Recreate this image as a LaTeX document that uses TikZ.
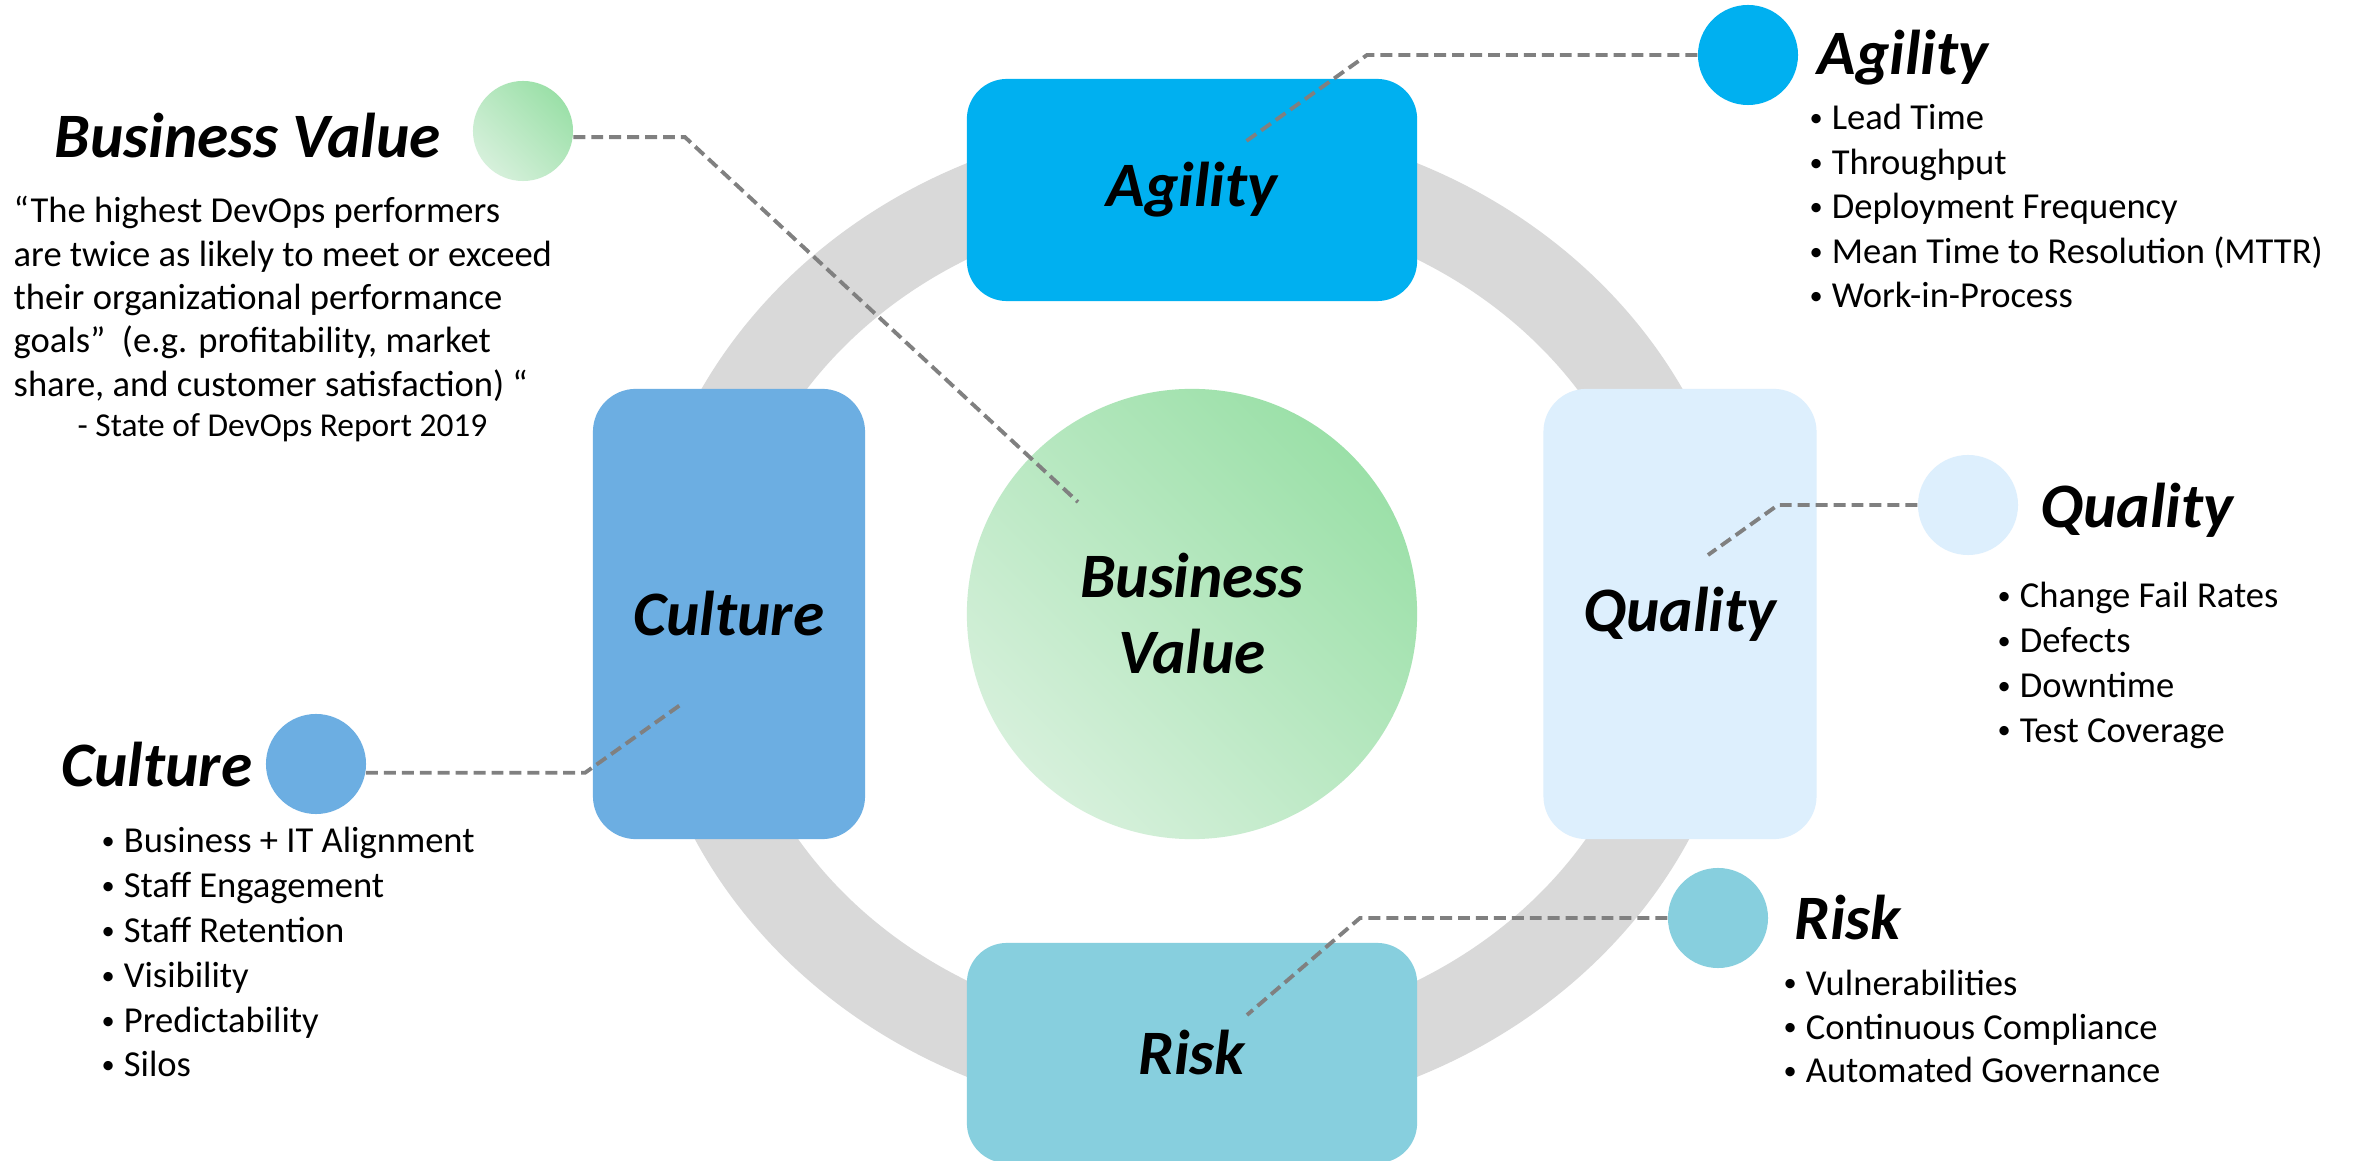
\documentclass[tikz,border=0pt]{standalone}
\usepackage{fontspec}
\setmainfont{Carlito}

\definecolor{agilityblue}{RGB}{0,176,240}
\definecolor{cultureblue}{RGB}{108,174,226}
\definecolor{qualityblue}{RGB}{221,239,253}
\definecolor{riskblue}{RGB}{135,207,222}
\definecolor{ringgray}{RGB}{217,217,217}
\definecolor{leadergray}{RGB}{128,128,128}
\definecolor{valuelight}{RGB}{214,240,219}
\definecolor{valuedark}{RGB}{155,224,168}

\newcommand{\headfont}{\fontsize{18}{21.6}\selectfont\bfseries\itshape}
\newcommand{\listfont}{\fontsize{10.4}{12.7}\selectfont}
\newcommand{\metric}[1]{\makebox[6.3pt][l]{\raisebox{0.9pt}{\fontsize{7.5}{7.5}\selectfont\textbullet}}#1}
\newcommand{\metriclist}[5]{
  \foreach \txt [count=\i] in {#5}{
    \node[item] (#1-\i) at (#2,{#3+#4*(\i-1)}) {\metric{\txt}};
  }
}

\begin{document}
\begin{tikzpicture}[x=0.01cm,y=-0.01cm]

\tikzstyle{pillar}=[rounded corners=0.4cm,inner sep=0,font=\headfont]
\tikzstyle{dot}=[circle,inner sep=0,minimum size=1cm]
\tikzstyle{head}=[anchor=base west,inner sep=0,font=\headfont]
\tikzstyle{item}=[anchor=base west,inner sep=0,font=\listfont]
\tikzstyle{leader}=[draw=leadergray,line width=1.1pt,dash pattern=on 3.4pt off 1.7pt]
\tikzstyle{value}=[top color=valuedark,bottom color=valuelight,shading angle=-45]

\path[use as bounding box,fill=white] (0,0) rectangle (2356,1161);
\draw[ringgray,line width=25pt] (1192,620) ellipse [x radius=509,y radius=456];

\node[pillar,fill=agilityblue,minimum width=4.5cm,minimum height=2.22cm] (agility) at (1192,190) {Agility};
\node[pillar,fill=riskblue,minimum width=4.5cm,minimum height=2.2cm] (risk) at (1192,1053) {Risk};
\node[pillar,fill=cultureblue,minimum width=2.72cm,minimum height=4.5cm,rounded corners=0.43cm] (culture) at (729,614) {Culture};
\node[pillar,fill=qualityblue,minimum width=2.73cm,minimum height=4.5cm,rounded corners=0.43cm] (quality) at (1680,614) {Quality};
\node[circle,value,minimum size=4.5cm,inner sep=0,font=\headfont,align=center] (value) at (1192,614) {Business\\Value};

\node[dot,value] (valuedot) at (523,131) {};
\node[dot,fill=agilityblue] (agilitydot) at (1748,55) {};
\node[dot,fill=cultureblue] (culturedot) at (316,764) {};
\node[dot,fill=qualityblue] (qualitydot) at (1968,505) {};
\node[dot,fill=riskblue] (riskdot) at (1718,918) {};

\coordinate (value-tip) at (1078,502);
\coordinate (agility-tip) at (1245,142);
\coordinate (culture-tip) at (683,703);
\coordinate (quality-tip) at (1708,555);
\coordinate (risk-tip) at (1247,1015);

\draw[leader] (valuedot.-7) -- (685,0 |- valuedot.-7) -- (value-tip);
\draw[leader] (agilitydot.west) -- (1367,0 |- agilitydot.west) -- (agility-tip);
\draw[leader] (culturedot.-10) -- (585,0 |- culturedot.-10) -- (culture-tip);
\draw[leader] (qualitydot.west) -- (1778,0 |- qualitydot.west) -- (quality-tip);
\draw[leader] (riskdot.west) -- (1360,0 |- riskdot.west) -- (risk-tip);

\node[head] (valuehead) at (54,158) {Business Value};
\node[head] (agilityhead) at (1817,75) {Agility};
\node[head] (culturehead) at (61,787) {Culture};
\node[head] (qualityhead) at (2040,528) {Quality};
\node[head] (riskhead) at (1794,940) {Risk};

\foreach \txt [count=\i] in {{“The highest DevOps performers}, {are twice as likely to meet or exceed}, {their organizational performance}, {goals”\ \ (e.g. profitability, market}, {share, and customer satisfaction) “}}
  \node[item] (quote-\i) at (13,{223+43.3*(\i-1)}) {\txt};
\node[item,font=\fontsize{9.5}{11.6}\selectfont] (source) at (77,437) {- State of DevOps Report 2019};

\metriclist{agilitylist}{1809}{130}{44.5}{Lead Time, Throughput, Deployment Frequency, Mean Time to Resolution (MTTR), Work-in-Process}
\metriclist{culturelist}{101}{853}{44.8}{Business + IT Alignment, Staff Engagement, Staff Retention, Visibility, Predictability, Silos}
\metriclist{qualitylist}{1997}{608}{44.7}{Change Fail Rates, Defects, Downtime, Test Coverage}
\metriclist{risklist}{1783}{995}{44}{Vulnerabilities, Continuous Compliance, Automated Governance}

\end{tikzpicture}
\end{document}
